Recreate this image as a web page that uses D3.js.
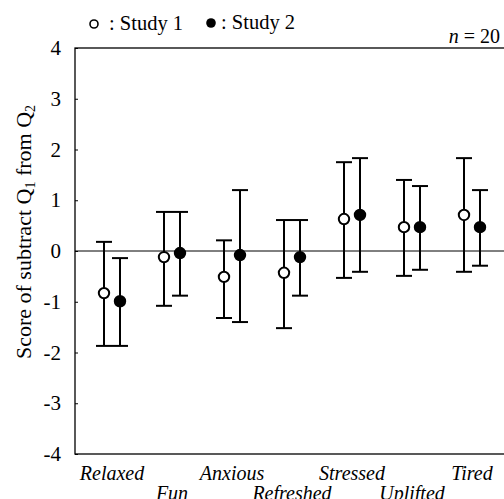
<!DOCTYPE html>
<html>
<head>
<meta charset="utf-8">
<script src="https://cdn.jsdelivr.net/npm/d3@7"></script>
<style>
  body { margin: 0; background: #fff; }
  svg { display: block; font-family: "Liberation Serif", "Times New Roman", serif; }
</style>
</head>
<body>
<svg id="chart"></svg>
<script>
const categories = ["Relaxed", "Fun", "Anxious", "Refreshed", "Stressed", "Uplifted", "Tired"];
// mean and error bar ends
const study1Mean  = [-0.83, -0.12, -0.51, -0.43, 0.63, 0.47, 0.71];
const study1Upper = [0.18, 0.77, 0.21, 0.61, 1.75, 1.40, 1.83];
const study1Lower = [-1.87, -1.08, -1.32, -1.52, -0.53, -0.49, -0.41];
const study2Mean  = [-0.99, -0.04, -0.08, -0.12, 0.71, 0.47, 0.47];
const study2Upper = [-0.14, 0.77, 1.20, 0.61, 1.83, 1.28, 1.20];
const study2Lower = [-1.87, -0.88, -1.40, -0.88, -0.41, -0.37, -0.29];
const yTicks = [-4, -3, -2, -1, 0, 1, 2, 3, 4];

const width = 504, height = 499;
const plotLeft = 75, plotTop = 48, plotBottom = 454;

const svg = d3.select('#chart')
  .attr('width', width)
  .attr('height', height)
  .attr('viewBox', `0 0 ${width} ${height}`);

const x = d3.scalePoint()
  .domain(categories)
  .range([112, 472]);

const y = d3.scaleLinear()
  .domain([-4, 4])
  .range([plotBottom, plotTop]);

// frame
svg.append('rect')
  .attr('x', plotLeft)
  .attr('y', plotTop)
  .attr('width', 440)
  .attr('height', plotBottom - plotTop)
  .attr('fill', 'none')
  .attr('stroke', '#000')
  .attr('stroke-width', 1.3);

// zero line
svg.append('line')
  .attr('x1', plotLeft).attr('x2', width)
  .attr('y1', y(0)).attr('y2', y(0))
  .attr('stroke', '#000')
  .attr('stroke-width', 1);

const yAxis = svg.append('g')
  .attr('transform', `translate(${plotLeft},0)`)
  .call(d3.axisLeft(y)
    .tickValues(yTicks)
    .tickFormat(d => String(d))
    .tickSize(-3)
    .tickSizeOuter(0)
    .tickPadding(14));
yAxis.select('.domain').remove();
yAxis.selectAll('text')
  .attr('font-size', 21)
  .attr('font-family', '"Liberation Serif", serif')
  .attr('fill', '#000');

// y title
const title = svg.append('text')
  .attr('transform', `translate(31,${232}) rotate(-90)`)
  .attr('text-anchor', 'middle')
  .attr('font-size', 22);
title.append('tspan').text('Score of subtract Q');
title.append('tspan').attr('font-size', 14).attr('dy', 4).text('1');
title.append('tspan').attr('dy', -4).text(' from Q');
title.append('tspan').attr('font-size', 14).attr('dy', 4).text('2');

// x labels, alternating rows
svg.append('g')
  .selectAll('text')
  .data(categories)
  .enter()
  .append('text')
  .attr('x', d => x(d))
  .attr('y', (d, i) => i % 2 === 0 ? 480 : 500)
  .attr('text-anchor', 'middle')
  .attr('font-style', 'italic')
  .attr('font-size', 20)
  .text(d => d);

const series = [
  { mean: study1Mean, upper: study1Upper, lower: study1Lower, dx: -8, fill: '#fff' },
  { mean: study2Mean, upper: study2Upper, lower: study2Lower, dx: 8, fill: '#000' }
];

series.forEach(s => {
  const g = svg.append('g');
  const rows = categories.map((c, i) => ({ c, m: s.mean[i], hi: s.upper[i], lo: s.lower[i] }));

  g.selectAll('.stem')
    .data(rows)
    .enter()
    .append('line')
    .attr('x1', d => x(d.c) + s.dx)
    .attr('x2', d => x(d.c) + s.dx)
    .attr('y1', d => y(d.hi))
    .attr('y2', d => y(d.lo))
    .attr('stroke', '#000')
    .attr('stroke-width', 2);

  ['hi', 'lo'].forEach(k => {
    g.selectAll('.cap-' + k)
      .data(rows)
      .enter()
      .append('line')
      .attr('x1', d => x(d.c) + s.dx - 8)
      .attr('x2', d => x(d.c) + s.dx + 8)
      .attr('y1', d => y(d[k]))
      .attr('y2', d => y(d[k]))
      .attr('stroke', '#000')
      .attr('stroke-width', 2);
  });

  g.selectAll('circle')
    .data(rows)
    .enter()
    .append('circle')
    .attr('cx', d => x(d.c) + s.dx)
    .attr('cy', d => y(d.m))
    .attr('r', 5.2)
    .attr('fill', s.fill)
    .attr('stroke', '#000')
    .attr('stroke-width', 2);
});

// legend
svg.append('circle')
  .attr('cx', 94).attr('cy', 24).attr('r', 4)
  .attr('fill', '#fff').attr('stroke', '#000').attr('stroke-width', 1.6);
svg.append('text')
  .attr('x', 109).attr('y', 30)
  .attr('font-size', 20.5)
  .text(': Study 1');
svg.append('circle')
  .attr('cx', 211).attr('cy', 23).attr('r', 4.8)
  .attr('fill', '#000');
svg.append('text')
  .attr('x', 221).attr('y', 28.5)
  .attr('font-size', 20.5)
  .text(': Study 2');

// sample size
const n = svg.append('text')
  .attr('x', 500).attr('y', 43)
  .attr('text-anchor', 'end')
  .attr('font-size', 20);
n.append('tspan').attr('font-style', 'italic').text('n');
n.append('tspan').text(' = 20');
</script>
</body>
</html>
